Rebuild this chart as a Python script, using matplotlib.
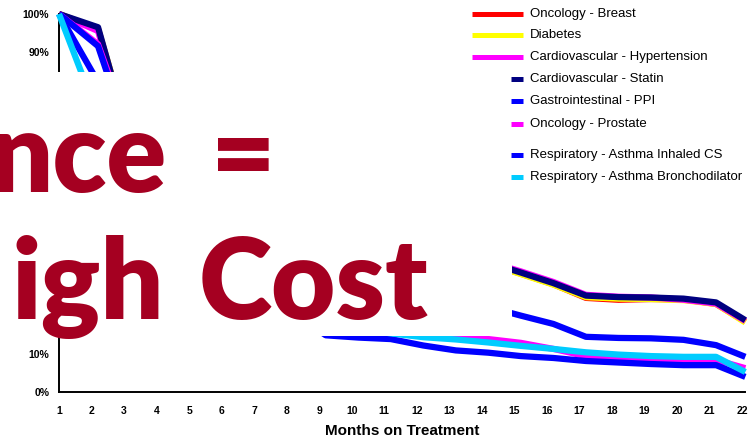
import matplotlib
matplotlib.use("Agg")
import matplotlib.pyplot as plt
from matplotlib.patches import Rectangle
from matplotlib.lines import Line2D

plt.rcParams['font.family'] = ['Liberation Sans', 'DejaVu Sans']

# ---- data -------------------------------------------------------------
months = [1, 2.2, 3.2, 4.2, 5.2, 6.2, 7.2, 8.2, 9.2, 10.2, 11.2,
          12.2, 13.2, 14.2, 15.2, 16.2, 17.2, 18.2, 19.2, 20.2, 21.2, 22.1]

series_names = [
    "Oncology - Breast",
    "Diabetes",
    "Cardiovascular - Hypertension",
    "Cardiovascular - Statin",
    "Gastrointestinal - PPI",
    "Oncology - Prostate",
    "Respiratory - Asthma Inhaled CS",
    "Respiratory - Asthma Bronchodilator",
]
series_colors = ["#FF0000", "#FFFF00", "#FF00FF", "#000080",
                 "#0000FF", "#FF00FF", "#0000FF", "#00CCFF"]

breast = [100, 96, 66.5, 60.5, 55, 51, 47, 44, 41.5, 39.5, 38, 36.5, 35, 34,
          31.3, 28.5, 24.9, 24.4, 24.6, 24.5, 23.3, 18.6]
diabetes = [100, 96, 67, 61, 55.5, 51, 47, 44, 41.5, 39.5, 38, 36.5, 35, 33.9,
            31.2, 28.4, 25.1, 24.7, 24.6, 24.3, 23.3, 18.4]
hypertension = [100, 95.5, 66, 60, 55, 51, 47.5, 44.5, 42, 40, 38.5, 37, 35.6, 34.5,
                31.9, 29.1, 25.7, 25.2, 25.0, 24.4, 23.4, 18.8]
statin = [100, 96.5, 66, 60, 55, 51, 47.5, 44.5, 42, 40, 38.5, 37, 35.5, 34.3,
          31.6, 28.8, 25.5, 25.1, 25.0, 24.7, 23.7, 19.0]
ppi = [100, 82, 66, 56, 49, 43, 38, 34, 31, 28.5, 26.5, 25, 23.7, 22.5,
       20.2, 18.0, 14.6, 14.3, 14.2, 13.8, 12.4, 9.3]
prostate = [100, 92, 68, 58, 49, 41, 34, 28, 23, 19.5, 17, 15.6, 14.7, 14.0,
            13.0, 11.4, 9.5, 9.0, 8.7, 8.5, 8.5, 6.3]
inhaled_cs = [100, 91.5, 66, 52, 42, 34, 27, 21, 15.0, 14.4, 14.0, 12.3, 11.0, 10.4,
              9.5, 9.0, 8.2, 7.8, 7.4, 7.1, 7.1, 4.0]
bronchodilator = [100, 73, 58, 46, 37, 30, 25, 21, 18.5, 16.8, 15.5, 14.5, 13.9, 13.1,
                  12.2, 11.4, 10.5, 9.9, 9.5, 9.3, 9.3, 5.3]

series_values = [breast, diabetes, hypertension, statin,
                 ppi, prostate, inhaled_cs, bronchodilator]

x_ticks = list(range(1, 23))
y_ticks = [0, 10, 90, 100]

# ---- layout helpers ---------------------------------------------------
W, H = 755, 437


def fx(px):
    return px / W


def fy(py):
    return (H - py) / H


fig = plt.figure(figsize=(W / 100, H / 100), dpi=100)
fig.patch.set_facecolor("white")

ax = fig.add_axes([fx(59), fy(392), fx(745) - fx(59), fy(14) - fy(392)])
ax.set_xlim(1, 22.09)
ax.set_ylim(0, 100)

for i, (vals, col) in enumerate(zip(series_values, series_colors)):
    ax.plot(months, vals, color=col, lw=4.5, solid_capstyle="butt",
            solid_joinstyle="round", clip_on=False, zorder=2 + i * 0.1)

for side in ("top", "right"):
    ax.spines[side].set_visible(False)
for side in ("left", "bottom"):
    ax.spines[side].set_color("black")
    ax.spines[side].set_linewidth(1.4)

ax.set_xticks(x_ticks)
ax.set_xticklabels([str(t) for t in x_ticks], fontsize=7.5, fontweight="bold")
ax.set_yticks(y_ticks)
ax.set_yticklabels([f"{t}%" for t in y_ticks], fontsize=7.5, fontweight="bold")
ax.tick_params(axis="x", length=0, pad=10)
ax.tick_params(axis="y", length=0, pad=7)
ax.set_xlabel("Months on Treatment", fontsize=11, fontweight="bold", labelpad=5.5)

# ---- white panels laid over the plot area -----------------------------
fig.add_artist(Rectangle((fx(0), fy(262)), 1.0, fy(72.5) - fy(262),
                         transform=fig.transFigure, facecolor="white",
                         edgecolor="none", zorder=3))
fig.add_artist(Rectangle((fx(0), fy(336)), fx(512), fy(262) - fy(336),
                         transform=fig.transFigure, facecolor="white",
                         edgecolor="none", zorder=3))

# ---- legend -----------------------------------------------------------
row_y = [13.5, 35, 57, 79, 101, 124, 155, 177]
for i, (name, col, ry) in enumerate(zip(series_names, series_colors, row_y)):
    x0 = 472 if i < 3 else 511
    fig.add_artist(Line2D([fx(x0), fx(523)], [fy(ry), fy(ry)],
                          transform=fig.transFigure, color=col, lw=3.6,
                          solid_capstyle="butt", zorder=4))
    fig.text(fx(530), fy(ry), name, fontsize=9.5, va="center", ha="left",
             color="black", zorder=4)

# ---- headline ---------------------------------------------------------
headline_color = "#A50021"
headline_font = dict(fontsize=80, family=["Lato", "DejaVu Sans"],
                     fontweight="heavy", color=headline_color,
                     va="baseline", ha="left", zorder=5)
fig.text(fx(-11), fy(192), "nce", **headline_font)
fig.text(fx(211), fy(192), "=", **headline_font)
fig.text(fx(11), fy(319), "igh", **headline_font)
fig.text(fx(199), fy(319), "Cost", **headline_font)

fig.savefig("out.png", dpi=100, facecolor="white")
